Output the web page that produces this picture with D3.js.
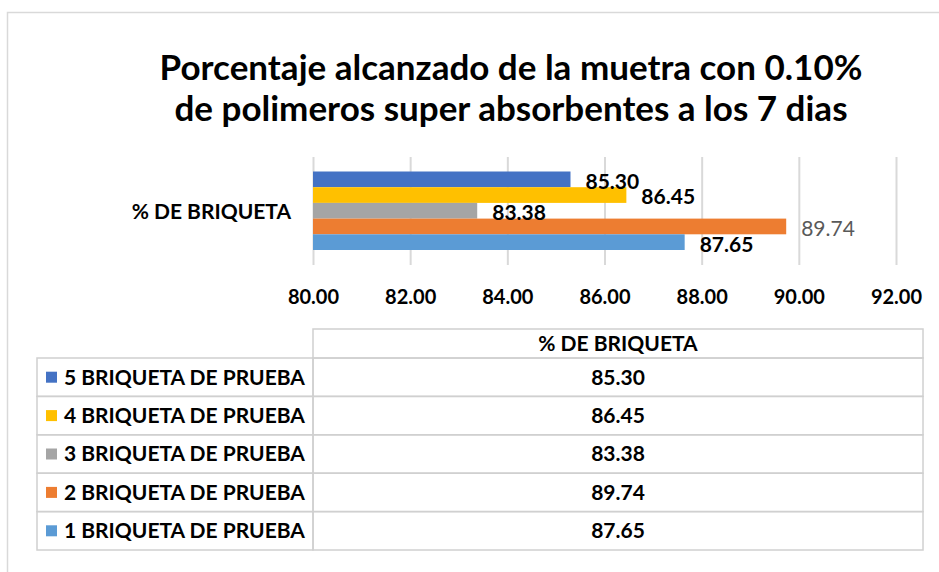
<!DOCTYPE html>
<html>
<head>
<meta charset="utf-8">
<script src="https://cdn.jsdelivr.net/npm/d3@7"></script>
<style>
  html, body { margin: 0; padding: 0; background: #fff; }
  svg { display: block; font-family: Lato, "Noto Sans", sans-serif; }
</style>
</head>
<body>
<div class="chart"></div>
<script>
// chart data
var titleLines = ['Porcentaje alcanzado de la muetra con 0.10%', 'de polimeros super absorbentes a los 7 dias']
var category = '% DE BRIQUETA'
var series = ['5 BRIQUETA DE PRUEBA', '4 BRIQUETA DE PRUEBA', '3 BRIQUETA DE PRUEBA', '2 BRIQUETA DE PRUEBA', '1 BRIQUETA DE PRUEBA']
var values = [85.30, 86.45, 83.38, 89.74, 87.65]
var colors = ['#4472C4', '#FFC000', '#A5A5A5', '#ED7D31', '#5B9BD5']
var tickValues = [80, 82, 84, 86, 88, 90, 92]

var width = 939, height = 572
var gridColor = '#d9d9d9'

var svg = d3.select('.chart').append('svg')
  .attr('width', width)
  .attr('height', height)

// outer chart frame (cropped on right/bottom)
svg.append('path')
  .attr('d', 'M7.5,' + height + 'V12.5H' + width)
  .attr('fill', 'none')
  .attr('stroke', gridColor)
  .attr('stroke-width', 1.5)

// title
svg.append('text')
  .attr('x', 511)
  .attr('y', 80)
  .attr('text-anchor', 'middle')
  .style('font-weight', 700)
  .style('font-size', '35px')
  .attr('fill', '#000')
  .selectAll('tspan')
  .data(titleLines)
  .join('tspan')
  .attr('x', 511)
  .attr('dy', (d, i) => i ? 41 : 0)
  .text(d => d)

// scales
var x = d3.scaleLinear().domain([80, 92]).range([313, 896])
var y = d3.scaleBand().domain(series).range([171.5, 250]).padding(0)

// gridlines + tick labels
var axis = svg.append('g')
  .attr('transform', 'translate(0,265)')
  .call(d3.axisBottom(x).tickValues(tickValues).tickSize(-108).tickFormat(d3.format('.2f')))
axis.select('.domain').remove()
axis.selectAll('.tick line').attr('stroke', gridColor).attr('stroke-width', 2)
axis.selectAll('.tick text')
  .attr('y', 32)
  .attr('dy', '0.35em')
  .attr('fill', '#000')
  .style('font-family', 'Lato, sans-serif')
  .style('font-weight', 700)
  .style('font-size', '20px')

// category label
svg.append('text')
  .attr('x', 291)
  .attr('y', 212)
  .attr('dy', '0.35em')
  .attr('text-anchor', 'end')
  .style('font-weight', 700)
  .style('font-size', '21px')
  .attr('fill', '#000')
  .text(category)

// bars
svg.append('g').selectAll('rect')
  .data(series)
  .join('rect')
  .attr('x', x(80))
  .attr('y', d => y(d))
  .attr('width', (d, i) => x(values[i]) - x(80))
  .attr('height', y.bandwidth())
  .attr('fill', (d, i) => colors[i])

// data labels
svg.append('g').selectAll('text')
  .data(series)
  .join('text')
  .attr('x', (d, i) => x(values[i]) + 15)
  .attr('y', d => y(d) + y.bandwidth() / 2 + 2)
  .attr('dy', '0.35em')
  .style('font-size', '21px')
  .style('font-weight', (d, i) => i === 3 ? 400 : 700)
  .attr('fill', (d, i) => i === 3 ? '#595959' : '#000')
  .text((d, i) => values[i].toFixed(2))

// data table
var tLeft = 37, tMid = 313, tRight = 923
var headTop = 329, headBottom = 358
var row = d3.scaleBand().domain(series).range([358, 550])
var tableColor = '#d0d0d0'

var table = svg.append('g')
table.append('rect')
  .attr('x', tMid).attr('y', headTop)
  .attr('width', tRight - tMid).attr('height', headBottom - headTop)
  .attr('fill', 'none').attr('stroke', tableColor).attr('stroke-width', 1.5)

table.append('text')
  .attr('x', (tMid + tRight) / 2)
  .attr('y', (headTop + headBottom) / 2)
  .attr('dy', '0.35em')
  .attr('text-anchor', 'middle')
  .style('font-weight', 700)
  .style('font-size', '21px')
  .attr('fill', '#000')
  .text(category)

var rows = table.selectAll('g.row')
  .data(series)
  .join('g')
  .attr('class', 'row')

rows.append('rect')
  .attr('x', tLeft).attr('y', d => row(d))
  .attr('width', tMid - tLeft).attr('height', row.bandwidth())
  .attr('fill', 'none').attr('stroke', tableColor).attr('stroke-width', 1.5)
rows.append('rect')
  .attr('x', tMid).attr('y', d => row(d))
  .attr('width', tRight - tMid).attr('height', row.bandwidth())
  .attr('fill', 'none').attr('stroke', tableColor).attr('stroke-width', 1.5)

rows.append('rect')
  .attr('x', 46)
  .attr('y', d => row(d) + row.bandwidth() / 2 - 5.5)
  .attr('width', 11).attr('height', 11)
  .attr('fill', (d, i) => colors[i])

rows.append('text')
  .attr('x', 64)
  .attr('y', d => row(d) + row.bandwidth() / 2)
  .attr('dy', '0.35em')
  .style('font-weight', 700)
  .style('font-size', '21px')
  .attr('fill', '#000')
  .text(d => d)

rows.append('text')
  .attr('x', (tMid + tRight) / 2)
  .attr('y', d => row(d) + row.bandwidth() / 2)
  .attr('dy', '0.35em')
  .attr('text-anchor', 'middle')
  .style('font-weight', 700)
  .style('font-size', '21px')
  .attr('fill', '#000')
  .text((d, i) => values[i].toFixed(2))
</script>
</body>
</html>
